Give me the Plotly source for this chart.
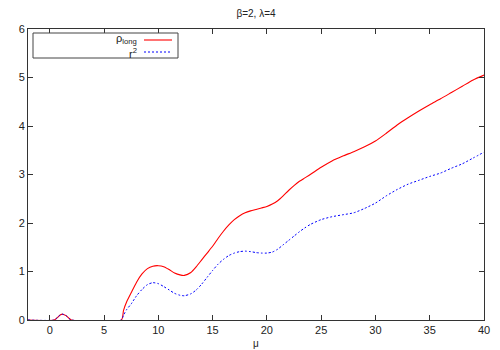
import plotly.graph_objects as go

mu = [-2, 0.4, 0.7, 1.0, 1.2, 1.5, 1.8, 2.0, 6.6, 6.8, 7.1, 7.5, 8.0, 8.5, 9.0, 9.5, 10.0,
      10.5, 11.0, 11.5, 12.0, 12.4, 13.0, 13.5, 14.0, 14.5, 15, 15.5, 16, 16.5, 17, 17.5,
      18, 18.5, 19, 19.5, 20, 20.5, 21, 21.5, 22, 22.5, 23, 23.5, 24, 25, 26, 27, 28, 29,
      30, 31, 32, 33, 34, 35, 36, 37, 38, 39, 40]

rho_long = [0, 0, 0.05, 0.11, 0.12, 0.09, 0.03, 0, 0, 0.2, 0.38, 0.56, 0.78, 0.95, 1.06, 1.11, 1.12,
            1.10, 1.04, 0.97, 0.93, 0.92, 0.98, 1.10, 1.24, 1.38, 1.52, 1.68, 1.83, 1.96, 2.07, 2.15,
            2.21, 2.25, 2.28, 2.31, 2.34, 2.39, 2.46, 2.56, 2.67, 2.77, 2.86, 2.93, 3.00, 3.15, 3.28,
            3.38, 3.47, 3.57, 3.69, 3.85, 4.02, 4.17, 4.31, 4.44, 4.56, 4.69, 4.82, 4.95, 5.05]

r2 = [0, 0, 0.05, 0.11, 0.12, 0.09, 0.03, 0, 0, 0.1, 0.22, 0.33, 0.5, 0.63, 0.73, 0.77, 0.75,
      0.69, 0.62, 0.55, 0.51, 0.50, 0.54, 0.62, 0.74, 0.88, 1.02, 1.15, 1.25, 1.33, 1.38, 1.41,
      1.42, 1.41, 1.39, 1.38, 1.38, 1.40, 1.46, 1.55, 1.64, 1.73, 1.82, 1.90, 1.97, 2.07, 2.13,
      2.17, 2.21, 2.30, 2.41, 2.56, 2.69, 2.80, 2.88, 2.96, 3.03, 3.13, 3.22, 3.34, 3.46]

x_ticks = [0, 5, 10, 15, 20, 25, 30, 35, 40]
y_ticks = [0, 1, 2, 3, 4, 5, 6]

FONT = "Liberation Sans, Arial, sans-serif"

fig = go.Figure()
fig.add_trace(go.Scatter(x=mu, y=rho_long, mode="lines", name="ρ_long",
                         line=dict(color="#ff0000", width=1.1, shape="spline", smoothing=0.6),
                         showlegend=False))
fig.add_trace(go.Scatter(x=mu, y=r2, mode="lines", name="r²",
                         line=dict(color="#0000ff", width=1, dash="2px,2px", shape="spline", smoothing=0.6),
                         showlegend=False))

axis_common = dict(showgrid=False, zeroline=False, showline=True, linecolor="#333",
                   linewidth=1, mirror="ticks", ticks="inside", ticklen=5, tickcolor="#333",
                   automargin=False,
                   tickfont=dict(family=FONT, size=11, color="#222"))

fig.update_xaxes(range=[-2, 40], tickvals=x_ticks, **axis_common,
                 title=dict(text="μ", font=dict(family=FONT, size=10, color="#222"), standoff=4))
fig.update_yaxes(range=[0, 6], tickvals=y_ticks, **axis_common)

# legend box drawn manually (gnuplot style: text right-aligned, sample to the right)
def px_x(p):
    return (p - 28) / (484 - 28)

def px_y(p):
    return 1 - (p - 29) / (320 - 29)

fig.add_shape(type="rect", xref="paper", yref="paper",
              x0=px_x(33), x1=px_x(178), y0=px_y(58), y1=px_y(33),
              line=dict(color="#444", width=1), fillcolor="white")
fig.add_shape(type="line", xref="paper", yref="paper",
              x0=px_x(144), x1=px_x(172), y0=px_y(40), y1=px_y(40),
              line=dict(color="#ff0000", width=1.1))
fig.add_shape(type="line", xref="paper", yref="paper",
              x0=px_x(144), x1=px_x(172), y0=px_y(52), y1=px_y(52),
              line=dict(color="#0000ff", width=1, dash="2px,2px"))
fig.add_annotation(xref="paper", yref="paper", x=px_x(139), y=px_y(39),
                   xanchor="right", yanchor="middle", showarrow=False,
                   text="ρ<sub>long</sub>", font=dict(family=FONT, size=11, color="#222"))
fig.add_annotation(xref="paper", yref="paper", x=px_x(139), y=px_y(53),
                   xanchor="right", yanchor="middle", showarrow=False,
                   text="r<sup>2</sup>", font=dict(family=FONT, size=11, color="#222"))

fig.update_layout(
    width=500, height=350,
    margin=dict(l=28, r=16, t=29, b=30, autoexpand=False),
    plot_bgcolor="white", paper_bgcolor="white",
    title=dict(text="β=2, λ=4", x=0.512, xanchor="center", y=1 - 13 / 350, yanchor="middle",
               font=dict(family=FONT, size=10, color="#222")),
)

fig.write_html("out.html", config={"displayModeBar": False},
               post_script="document.body.style.margin='0';document.body.style.padding='0';")
